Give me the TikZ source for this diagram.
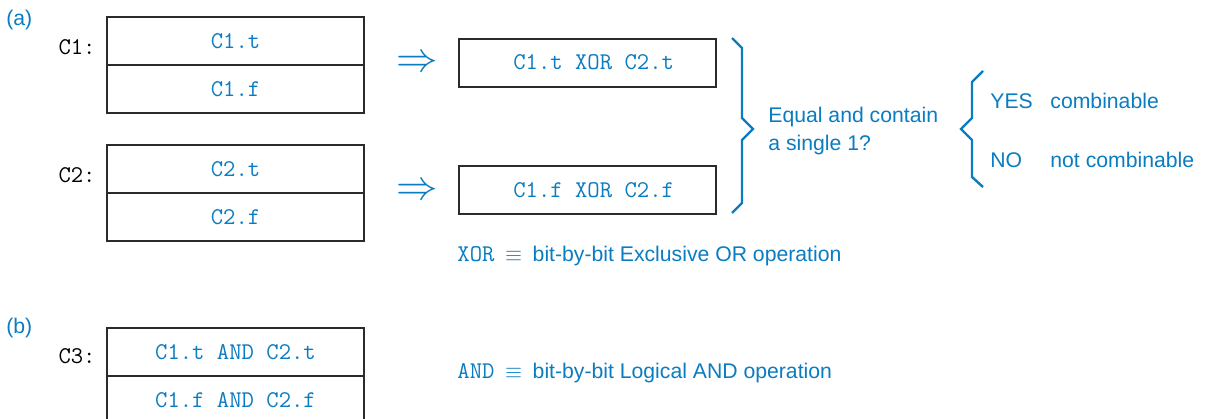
\documentclass[tikz,border=0pt]{standalone}
\usepackage{fontspec}
\setmainfont{Liberation Sans}
\usepackage{tikz}
\usetikzlibrary{calc,positioning}

\definecolor{bitblue}{HTML}{0A7CC1}
\definecolor{boxline}{HTML}{2B2B2B}

\newcommand{\codesize}{\fontsize{12}{14}\selectfont}

\tikzset{
	cell/.style={draw=boxline, line width=1pt, minimum width=128.5pt, minimum height=24pt, inner sep=0pt,
		font=\ttfamily\codesize, text=bitblue},
	cubename/.style={anchor=east, inner sep=0pt, font=\ttfamily\codesize, text=black},
	bluetext/.style={inner sep=0pt, text=bitblue, font=\fontsize{10.6}{14}\selectfont},
	implies/.style={inner sep=0pt, text=bitblue, font=\fontsize{20}{20}\selectfont},
	bracket/.style={draw=bitblue, line width=1.2pt, line join=miter}
}

\begin{document}
\begin{tikzpicture}[x=0.5pt, y=-0.5pt]
					\useasboundingbox (0, 0) rectangle (1209, 418);
					\fill[white] (0, 0) rectangle (1209, 418);
					\clip (0, 0) rectangle (1209, 418);

					% part (a)
					\node[bluetext, anchor=west] (parta) at (6, 20) {(a)};
					\node[cell] (c1t) at (235.5, 41) {C1.t};
					\node[cell] (c1f) at ($(c1t) + (0, 48)$) {C1.f};
					\node[cubename] (c1name) at (96, 47) {C1:};
					\node[cell] (c2t) at ($(c1t) + (0, 128)$) {C2.t};
					\node[cell] (c2f) at ($(c2t) + (0, 48)$) {C2.f};
					\node[cubename] (c2name) at (96, 175) {C2:};

					\node[implies] (arrt) at (417, 64) {$\Rightarrow$};
					\node[implies] (arrf) at (417, 192) {$\Rightarrow$};
					\node[cell] (xort) at (587.5, 62.5) {~C1.t XOR C2.t};
					\node[cell] (xorf) at (587.5, 190) {~C1.f XOR C2.f};

					% braces
					\draw[bracket] (732, 38) -- (742, 48) -- (742, 118) -- (753, 129) -- (742, 140) -- (742, 203) -- (732, 213);
					\node[bluetext, anchor=west, align=left] (question) at (768, 131) {Equal and contain\\a single 1?};
					\draw[bracket] (983, 71) -- (972, 82) -- (972, 118) -- (961, 129) -- (972, 140) -- (972, 177) -- (983, 187);
					\node[bluetext, anchor=west] (yes) at (990, 101) {YES};
					\node[bluetext, anchor=west] (yesmeaning) at (1050, 101) {combinable};
					\node[bluetext, anchor=west] (no) at (990, 160) {NO};
					\node[bluetext, anchor=west] (nomeaning) at (1050, 160) {not combinable};

					\node[bluetext, anchor=west] (xorlegend) at (457, 256) {\texttt{\codesize XOR}\enspace$\equiv$\enspace bit-by-bit Exclusive OR operation};

					% part (b)
					\node[bluetext, anchor=west] (partb) at (6, 328) {(b)};
					\node[cell] (c3t) at (235.5, 352) {C1.t AND C2.t};
					\node[cell] (c3f) at ($(c3t) + (0, 48)$) {C1.f AND C2.f};
					\node[cubename] (c3name) at (96, 356) {C3:};
					\node[bluetext, anchor=west] (andlegend) at (457, 373) {\texttt{\codesize AND}\enspace$\equiv$\enspace bit-by-bit Logical AND operation};

				\end{tikzpicture}
\end{document}
